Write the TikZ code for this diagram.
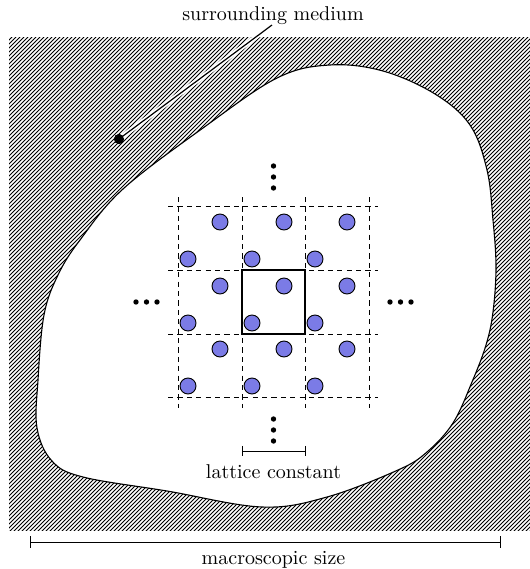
\documentclass[tikz,border=0pt]{standalone}
\usetikzlibrary{patterns.meta}
\definecolor{atomblue}{RGB}{123,123,230}
\tikzset{
  atom/.style={circle,draw=black,line width=0.45pt,fill=atomblue,minimum size=8pt,inner sep=0pt},
  bigdot/.style={circle,fill=black,minimum size=2.7pt,inner sep=0pt},
  leaderdot/.style={circle,fill=black,minimum size=5pt,inner sep=0pt},
  gridline/.style={line width=0.4pt,dash pattern=on 2.6pt off 2.1pt},
  cellbox/.style={line width=0.9pt},
  bar/.style={line width=0.45pt},
  lbl/.style={font=\fontsize{10}{12}\selectfont,inner sep=0pt}
}
\begin{document}
\begin{tikzpicture}[x=0.5pt,y=-0.5pt]
\useasboundingbox (0,0) rectangle (530,569);
% surrounding medium (hatched)
\fill[pattern={Lines[angle=45,distance=1.41421pt,line width=0.5pt]}] (9,37) rectangle (530,530);
% the finite crystal
\draw[fill=white,line width=0.55pt] plot[smooth cycle,tension=0.6] coordinates {
 (330,65) (383,71) (435,94) (470,125) (487,170) (493,220) (496,267) (493,312)
 (486,345) (472,382) (453,423) (427,452) (398,470) (327,497) (262,507)
 (167,491) (83,477) (52,461) (37,428) (38,380) (44,315) (58,275)
 (80,240) (123,189) (203,128) (277,78)};
% lattice grid
\foreach \x in {178,242,305,369} \draw[gridline] (\x,197) -- (\x,408);
\foreach \y in {206,270,334,397} \draw[gridline] (168,\y) -- (378,\y);
% unit cell
\draw[cellbox] (242,270) rectangle (305,334);
% atoms
\foreach \i/\x in {0/220,1/284,2/347} \foreach \j/\y in {0/222,1/286,2/349}
  \node[atom] (a\i\j) at (\x,\y) {};
\foreach \i/\x in {0/188,1/252,2/315} \foreach \j/\y in {0/259,1/323,2/386}
  \node[atom] (b\i\j) at (\x,\y) {};
% continuation dots
\foreach \k/\y in {1/166,2/177,3/188} \node[bigdot] (top\k) at (273.5,\y) {};
\foreach \k/\y in {1/419,2/430,3/441} \node[bigdot] (bot\k) at (273.5,\y) {};
\foreach \k/\x in {1/136,2/146.5,3/157} \node[bigdot] (lft\k) at (\x,302) {};
\foreach \k/\x in {1/390,2/400.5,3/411} \node[bigdot] (rgt\k) at (\x,302) {};
% surrounding medium label and leader
\node[lbl] (sm) at (273,16) {surrounding medium};
\node[leaderdot] (smdot) at (119,139) {};
\coordinate (smend) at (272,25);
\draw[line width=0.6pt,preaction={draw=white,line width=2.4pt}] (smdot.center) -- (smend);
\node[leaderdot] at (119,139) {};
% lattice constant bar
\coordinate (lc1) at (242,451);
\coordinate (lc2) at (305,451);
\draw[bar] (lc1) -- (lc2);
\draw[bar] ([yshift=2.6pt]lc1) -- ([yshift=-2.6pt]lc1);
\draw[bar] ([yshift=2.6pt]lc2) -- ([yshift=-2.6pt]lc2);
\node[lbl] (lcl) at (273.5,472) {lattice constant};
% macroscopic size bar
\coordinate (ms1) at (30,542);
\coordinate (ms2) at (500,542);
\draw[bar] (ms1) -- (ms2);
\draw[bar] ([yshift=2.8pt]ms1) -- ([yshift=-2.8pt]ms1);
\draw[bar] ([yshift=2.8pt]ms2) -- ([yshift=-2.8pt]ms2);
\node[lbl] (msl) at (273.5,560) {macroscopic size};
\end{tikzpicture}
\end{document}
